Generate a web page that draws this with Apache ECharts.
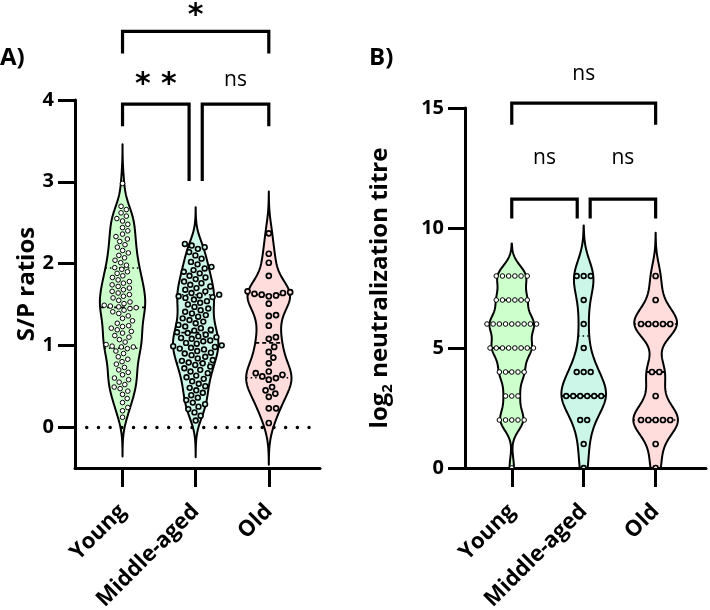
<!DOCTYPE html>
<html><head><meta charset="utf-8">
<script src="https://cdn.jsdelivr.net/npm/echarts@6/dist/echarts.min.js"></script>
<style>html,body{margin:0;padding:0;background:#fff}#c{width:710px;height:610px}</style>
</head><body><div id="c"></div>
<script>
// ---------- data ----------
const categories = ['Young', 'Middle-aged', 'Old'];
const categoryPos = [1, 2, 3];

// Panel A: S/P ratios
const spYoung = [0.12,0.2,0.24, 0.3,0.35,0.4,0.44,0.47,0.49, 0.52,0.55,0.58,0.6,0.64,0.67,0.7,0.73,
  0.77,0.8,0.83,0.86,0.9,0.93,0.96,0.98,0.98,0.99, 1.01,1.04,1.07,1.1,1.12,1.15,1.17,1.19,1.21,1.23,1.24,
  1.27,1.3,1.33,1.36,1.39,1.41,1.43,1.45,1.46,1.47,1.48,1.49, 1.51,1.53,1.55,1.58,1.6,1.62,1.64,1.66,1.68,1.7,1.72,1.74,
  1.76,1.78,1.8,1.83,1.85,1.88,1.9,1.93,1.95,1.98, 2.01,2.04,2.07,2.1,2.13,2.16,2.2,2.23,
  2.27,2.3,2.33,2.36,2.4,2.44,2.48, 2.52,2.55,2.58,2.62,2.66,2.7, 2.98];
const spMiddle = [0.08,0.14,0.18, 0.22,0.25,0.28,0.3,0.33,0.36,0.39, 0.42,0.45,0.48,0.5,0.53,0.56,0.59,
  0.61,0.63,0.66,0.68,0.7,0.72,0.74,0.76,0.78,0.79, 0.81,0.82,0.84,0.86,0.88,0.9,0.91,0.93,0.95,0.96,0.97,0.98,0.99,
  1.0,1.02,1.03,1.05,1.06,1.08,1.09,1.1,1.11,1.13,1.15,1.16,1.18,1.19, 1.21,1.23,1.25,1.27,1.29,1.31,1.33,1.35,1.37,1.39,
  1.41,1.43,1.45,1.47,1.5,1.52,1.54,1.56,1.58,1.59, 1.6,1.61,1.62,1.64,1.66,1.68,1.7,1.72,1.74,1.76,1.78,
  1.81,1.83,1.85,1.88,1.9,1.92,1.94,1.96,1.99, 2.02,2.06,2.1,2.14,2.18, 2.2,2.22,2.24];
const spOld = [0.05, 0.23,0.23, 0.37,0.41,0.45,0.49, 0.58,0.6,0.62,0.64,0.66,0.68, 0.78,0.85,0.92,0.98,
  1.08,1.1, 1.24, 1.36,1.37, 1.51, 1.6,1.61,1.62,1.63,1.64,1.65,1.66, 1.85, 2.01, 2.12, 2.37];

// Panel B: log2 neutralization titre
const titreYoung = [0, 2,2,2,2,2, 3,3,3, 4,4,4,4,4, 5,5,5,5,5,5,5,5, 6,6,6,6,6,6,6,6,6, 7,7,7,7,7,7, 8,8,8,8,8,8];
const titreMiddle = [0, 1, 2,2, 3,3,3,3,3,3, 4,4,4, 5, 6, 7, 8,8,8];
const titreOld = [0, 1, 2,2,2,2,2, 3, 4,4, 6,6,6,6,6, 7, 8];

const yTicksA = [0, 1, 2, 3, 4];
const yTicksB = [0, 5, 10, 15];

// significance brackets
const bracketLabelsA = ['* *', 'ns', '*'];
const bracketLabelsB = ['ns', 'ns', 'ns'];

// ---------- styles / layout ----------
const FONT = '"Open Sans", "Liberation Sans", sans-serif';
const fills = ['#ccffcc', '#ccf7e8', '#ffdddd'];
const bandwidthA = [0.16, 0.15, 0.17];
const bandwidthB = [0.45, 0.7, 0.6];
const dotStyle = [{r: 2.3, lw: 1, fill: '#ffffff'}, {r: 2.4, lw: 1.6, fill: null}, {r: 2.5, lw: 1.7, fill: null}];
const halfWidth = 0.31;
// bracket geometry: [x1, x2, yTop, leg1Bottom, leg2Bottom, labelY]
const bracketGeomA = [[1, 1.91, 3.95, 3.68, 3.01, 4.18], [2.09, 3, 3.95, 3.01, 3.68, 4.24], [1, 3, 4.84, 4.57, 4.57, 5.02]];
const bracketGeomB = [[1, 1.91, 11.2, 10.4, 10.4, 12.9], [2.09, 3, 11.2, 10.4, 10.4, 12.9], [1, 3, 15.2, 14.3, 14.3, 16.4]];

function quantile(s, p) {
  const pos = (s.length - 1) * p, lo = Math.floor(pos), hi = Math.ceil(pos);
  return s[lo] + (s[hi] - s[lo]) * (pos - lo);
}

function makeViolinRender(groups, bws, yMin, yMax, mode) {
  return function (params, api) {
    const gi = params.dataIndex;
    const xc = api.value(0);
    const vals = groups[gi].slice().sort((a, b) => a - b);
    const h = bws[gi];
    const dens = y => { let d = 0; for (const v of vals) { const z = (y - v) / h; d += Math.exp(-0.5 * z * z); } return d; };
    const lo = Math.max(vals[0] - 3 * h, yMin), hi = Math.min(vals[vals.length - 1] + 3 * h, yMax);
    const N = 200, ys = [], ds = [];
    let dmax = 0;
    for (let i = 0; i <= N; i++) { const y = lo + (hi - lo) * i / N; const d = dens(y); ys.push(y); ds.push(d); if (d > dmax) dmax = d; }
    const hw = y => halfWidth * dens(y) / dmax;
    const pts = [];
    for (let i = 0; i <= N; i++) pts.push(api.coord([xc + halfWidth * ds[i] / dmax, ys[i]]));
    for (let i = N; i >= 0; i--) pts.push(api.coord([xc - halfWidth * ds[i] / dmax, ys[i]]));
    const children = [];
    children.push({type: 'polygon', shape: {points: pts}, style: {fill: fills[gi], stroke: '#000', lineWidth: 2, lineJoin: 'round'}});
    const qs = [[0.25, [1.5, 3]], [0.5, [4, 3]], [0.75, [1.5, 3]]];
    for (const [p, dash] of qs) {
      const q = quantile(vals, p), w = hw(q);
      const a = api.coord([xc - w, q]), b = api.coord([xc + w, q]);
      children.push({type: 'line', shape: {x1: a[0], y1: a[1], x2: b[0], y2: b[1]},
        style: {stroke: '#000', lineWidth: p === 0.5 ? 1.8 : 1.5, lineDash: dash}});
    }
    const ds_ = dotStyle[gi];
    const d = 2 * ds_.r + ds_.lw + 0.6;
    const pys = vals.map(v => api.coord([xc, v])[1]);
    const cx0 = api.coord([xc, 0])[0];
    const xs = [];
    if (mode === 'rows') {
      let i = 0;
      while (i < vals.length) {
        let j = i; while (j < vals.length && vals[j] === vals[i]) j++;
        const k = j - i;
        for (let t = 0; t < k; t++) xs[i + t] = (t - (k - 1) / 2) * d;
        i = j;
      }
    } else {
      for (let i = 0; i < vals.length; i++) {
        const cands = [0];
        for (let j = 0; j < i; j++) {
          const dy = Math.abs(pys[j] - pys[i]);
          if (dy < d) { const dx = Math.sqrt(d * d - dy * dy); cands.push(xs[j] + dx, xs[j] - dx); }
        }
        cands.sort((a, b) => Math.abs(a) - Math.abs(b));
        let chosen = 0;
        for (const c of cands) {
          let ok = true;
          for (let j = 0; j < i; j++) {
            const dx = xs[j] - c, dy = pys[j] - pys[i];
            if (dx * dx + dy * dy < d * d - 0.01) { ok = false; break; }
          }
          if (ok) { chosen = c; break; }
        }
        xs[i] = chosen;
      }
    }
    for (let i = 0; i < vals.length; i++) {
      children.push({type: 'circle', shape: {cx: cx0 + xs[i], cy: pys[i], r: ds_.r},
        style: {fill: ds_.fill || fills[gi], stroke: '#000', lineWidth: ds_.lw}});
    }
    return {type: 'group', children};
  };
}

function makeBracketRender(geom, labels) {
  return function (params, api) {
    const g = geom[params.dataIndex];
    const a = api.coord([g[0], g[3]]), b = api.coord([g[0], g[2]]), c = api.coord([g[1], g[2]]), e = api.coord([g[1], g[4]]);
    const t = api.coord([(g[0] + g[1]) / 2, g[5]]);
    const lab = labels[params.dataIndex];
    const isStar = lab.indexOf('*') >= 0;
    return {type: 'group', children: [
      {type: 'polyline', shape: {points: [a, b, c, e]}, style: {stroke: '#000', lineWidth: 3.2, fill: null, lineJoin: 'miter'}},
      {type: 'text', x: t[0], y: t[1], style: {text: lab, fill: '#000', align: 'center', verticalAlign: 'middle',
        font: isStar ? 'bold 30px "DejaVu Sans", sans-serif' : 'normal 21px ' + FONT}}
    ]};
  };
}

const axisLineStyle = {lineStyle: {color: '#000', width: 3}};
function xAxisCfg(gridIndex) {
  return {type: 'value', gridIndex, min: 0.35, max: 3.7, splitLine: {show: false},
    axisLine: {show: true, onZero: false, lineStyle: {color: '#000', width: 3}},
    axisTick: {show: true, customValues: categoryPos, length: 19, lineStyle: {color: '#000', width: 3}},
    axisLabel: {customValues: categoryPos, rotate: 45, margin: 40, color: '#000', fontFamily: FONT, fontWeight: 'bold', fontSize: 22,
      hideOverlap: false, formatter: v => categories[Math.round(v) - 1]}};
}

const option = {
  animation: false,
  backgroundColor: '#fff',
  grid: [
    {left: 75, top: 100, width: 245, height: 368, outerBoundsMode: 'none', containLabel: false},
    {left: 465, top: 108, width: 241, height: 360, outerBoundsMode: 'none', containLabel: false}
  ],
  xAxis: [xAxisCfg(0), xAxisCfg(1)],
  yAxis: [
    {type: 'value', gridIndex: 0, min: -0.5, max: 4, splitLine: {show: false},
      axisLine: axisLineStyle,
      axisTick: {show: true, customValues: yTicksA, length: 17, lineStyle: {color: '#000', width: 3}},
      axisLabel: {customValues: yTicksA, margin: 21, color: '#000', fontFamily: FONT, fontWeight: 'bold', fontSize: 20},
      name: 'S/P ratios', nameLocation: 'middle', nameGap: 35,
      nameTextStyle: {color: '#000', fontFamily: FONT, fontWeight: 'bold', fontSize: 24}},
    {type: 'value', gridIndex: 1, min: 0, max: 15, splitLine: {show: false},
      axisLine: axisLineStyle,
      axisTick: {show: true, customValues: yTicksB, length: 17, lineStyle: {color: '#000', width: 3}},
      axisLabel: {customValues: yTicksB, margin: 21, color: '#000', fontFamily: FONT, fontWeight: 'bold', fontSize: 20},
      name: 'log{s|2} neutralization titre', nameLocation: 'middle', nameGap: 70,
      nameTextStyle: {color: '#000', fontFamily: FONT, fontWeight: 'bold', fontSize: 24,
        rich: {s: {fontFamily: FONT, fontWeight: 'bold', fontSize: 15, verticalAlign: 'bottom', padding: [14, 0, 0, 0]}}}}
  ],
  graphic: [
    {type: 'text', left: 0, top: 46, style: {text: 'A)', font: 'bold 24px ' + FONT, fill: '#000'}},
    {type: 'text', left: 369, top: 46, style: {text: 'B)', font: 'bold 24px ' + FONT, fill: '#000'}}
  ],
  series: [
    {type: 'line', xAxisIndex: 0, yAxisIndex: 0, data: [], z: 1,
      markLine: {silent: true, symbol: 'none', label: {show: false},
        lineStyle: {color: '#000', width: 3.4, type: [0.1, 11.6], cap: 'round'}, data: [{yAxis: 0}]}},
    {type: 'custom', xAxisIndex: 0, yAxisIndex: 0, z: 3, clip: true,
      data: categoryPos.map(p => [p, 0]), renderItem: makeViolinRender([spYoung, spMiddle, spOld], bandwidthA, -0.5, 4, 'swarm')},
    {type: 'custom', xAxisIndex: 1, yAxisIndex: 1, z: 3, clip: true,
      data: categoryPos.map(p => [p, 0]), renderItem: makeViolinRender([titreYoung, titreMiddle, titreOld], bandwidthB, 0, 15, 'rows')},
    {type: 'custom', xAxisIndex: 0, yAxisIndex: 0, z: 4, clip: false,
      data: bracketGeomA.map(g => [g[0], g[2]]), renderItem: makeBracketRender(bracketGeomA, bracketLabelsA)},
    {type: 'custom', xAxisIndex: 1, yAxisIndex: 1, z: 4, clip: false,
      data: bracketGeomB.map(g => [g[0], g[2]]), renderItem: makeBracketRender(bracketGeomB, bracketLabelsB)}
  ]
};
const chart = echarts.init(document.getElementById('c'));
chart.setOption(option);
</script>
</body></html>
